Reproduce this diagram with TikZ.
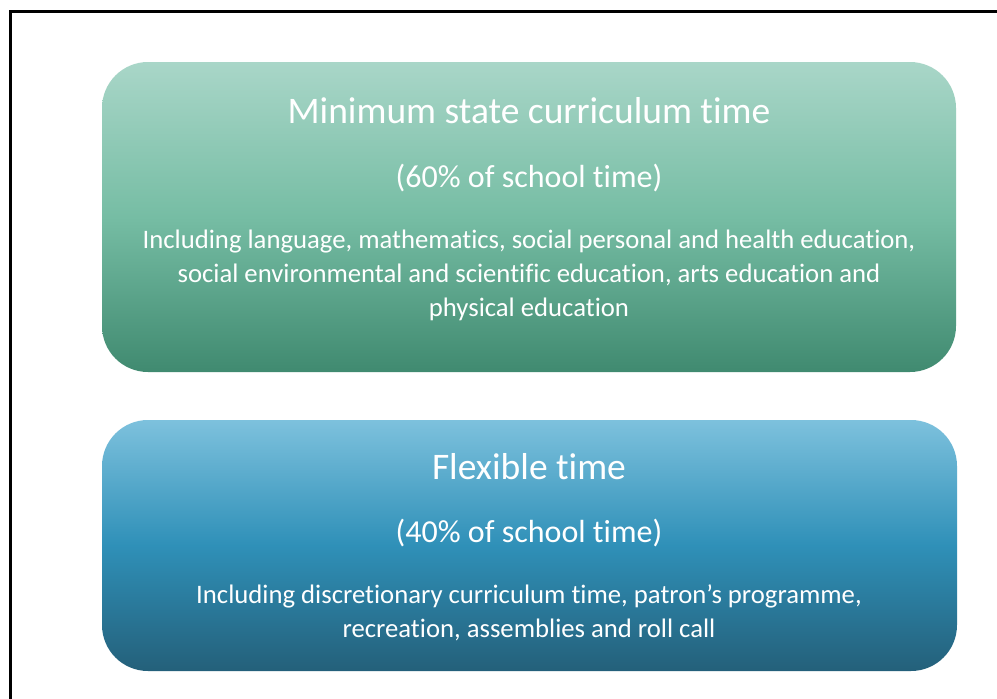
\documentclass[tikz,border=0pt]{standalone}
\usepackage{fontspec}
\setmainfont{Carlito}[Ligatures=NoCommon]
\definecolor{gtop}{RGB}{169,214,200}
\definecolor{gmid}{RGB}{118,189,164}
\definecolor{gbot}{RGB}{64,138,112}
\definecolor{btop}{RGB}{125,193,221}
\definecolor{bmid}{RGB}{47,144,184}
\definecolor{bbot}{RGB}{36,96,122}
\tikzset{
  box/.style={draw=none, rounded corners=46pt, inner sep=0pt},
  title/.style={text=white, font=\fontsize{37.5}{44}\selectfont, inner sep=0pt},
  sub/.style={text=white, font=\fontsize{32}{38}\selectfont, inner sep=0pt},
  body/.style={text=white, font=\fontsize{26.7}{34}\selectfont, align=center, inner sep=0pt},
}
\begin{document}
\begin{tikzpicture}[x=1pt,y=-1pt]
\useasboundingbox (0,0) rectangle (997,699);
\fill[white] (0,0) rectangle (997,699);
\draw[line width=3pt] (10,699) coordinate (bl) -- (10,11) coordinate (tl) -- (997,11) coordinate (tr);
\node[box, minimum width=854pt, minimum height=310pt, top color=gtop, bottom color=gbot, middle color=gmid] (b1) at (529,217) {};
\node[title] (t1) at (529,111) {Minimum state curriculum time};
\node[sub] (s1) at (529,178) {(60\% of school time)};
\node[body] (d1) at (529,275.5) {Including language, mathematics, social personal and health education,\\ social environmental and scientific education, arts education and\\ physical education};
\node[box, minimum width=855pt, minimum height=251pt, top color=btop, bottom color=bbot, middle color=bmid] (b2) at (529.5,545.5) {};
\node[title] (t2) at (529,467) {Flexible time};
\node[sub] (s2) at (529,533) {(40\% of school time)};
\node[body] (d2) at (529,613) {Including discretionary curriculum time, patron’s programme,\\ recreation, assemblies and roll call};
\end{tikzpicture}
\end{document}
